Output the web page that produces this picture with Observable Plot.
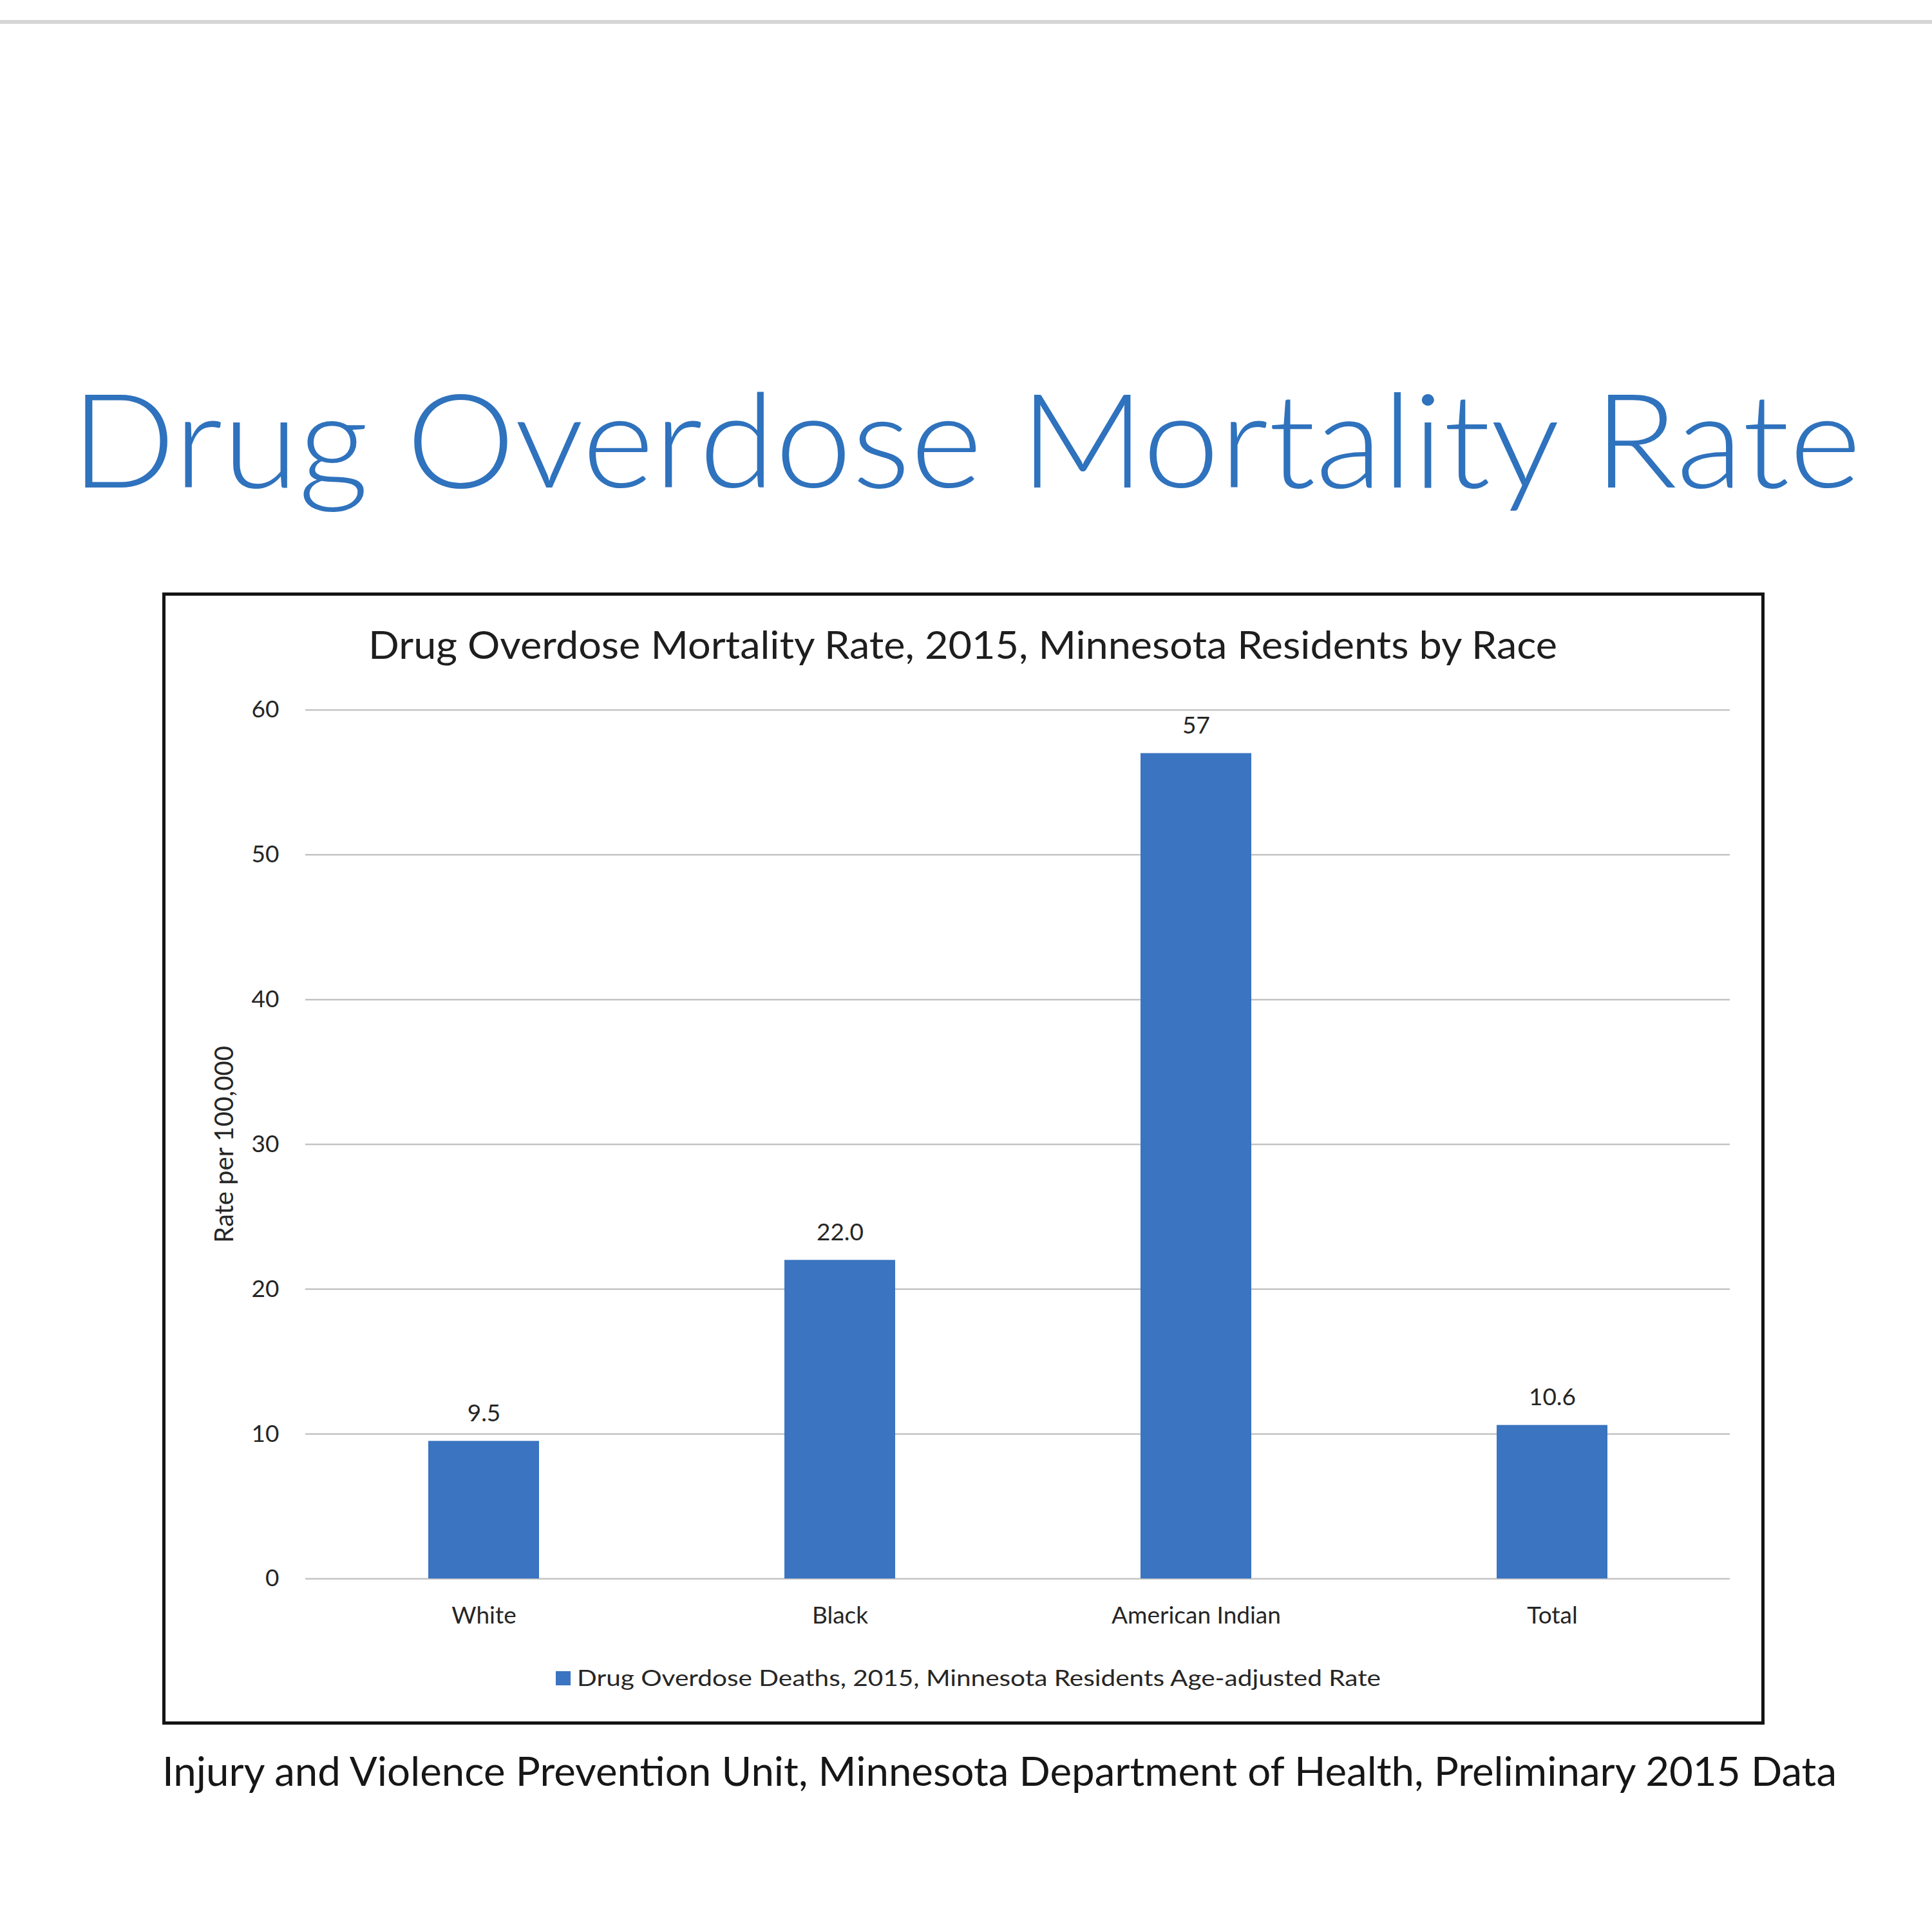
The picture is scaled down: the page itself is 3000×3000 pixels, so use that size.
<!DOCTYPE html>
<html>
<head>
<meta charset="utf-8">
<script src="https://cdn.jsdelivr.net/npm/d3@7"></script>
<script src="https://cdn.jsdelivr.net/npm/@observablehq/plot@0.6"></script>
<style>
  body { margin: 0; background: #fff; }
  #page { position: relative; width: 3000px; height: 3000px; background: #fff; overflow: hidden; }
  .t { position: absolute; white-space: nowrap; line-height: 1.2; transform-origin: 0 0; }
  .rule { position: absolute; left: 0; width: 3000px; top: 31px; height: 6px; background: #d6d6d6; }
  .box { position: absolute; left: 252px; top: 920px; width: 2488px; height: 1758px; box-sizing: border-box; border: 5px solid #141414; }
  .swatch { position: absolute; left: 863px; top: 2595px; width: 23px; height: 22px; }
  #chart { position: absolute; left: 0; top: 1040px; }
</style>
</head>
<body>
<div id="page">
  <div class="rule"></div>
  <div class="box"></div>
  <div class="swatch"></div>
  <div id="chart"></div>
</div>
<script>
// Age-adjusted drug overdose death rates, Minnesota residents, 2015
const categories = ["White", "Black", "American Indian", "Total"];
const rates = [9.5, 22.0, 57, 10.6];
const rateLabels = ["9.5", "22.0", "57", "10.6"];
const yTicks = [0, 10, 20, 30, 40, 50, 60];

const pageTitle = "Drug Overdose Mortality Rate";
const chartTitle = "Drug Overdose Mortality Rate, 2015, Minnesota Residents by Race";
const yLabel = "Rate per 100,000";
const seriesName = "Drug Overdose Deaths, 2015, Minnesota Residents Age-adjusted Rate";
const sourceNote = "Injury and Violence Prevention Unit, Minnesota Department of Health, Preliminary 2015 Data";

const FONT = "Lato, 'Open Sans', 'Noto Sans', sans-serif";
const BAR = "#3b74c0";
const TITLE_BLUE = "#2f72bd";
const INK = "#262626";

const page = document.getElementById("page");

// Place a line of text by its baseline and cap height, then stretch it to a set width.
function placeText(str, {left, baseline, cap, width, weight = 400, color = INK}) {
  const size = cap / 0.7165;
  const el = document.createElement("div");
  el.className = "t";
  el.style.fontFamily = FONT;
  el.style.fontSize = size + "px";
  el.style.fontWeight = weight;
  el.style.color = color;
  el.style.left = left + "px";
  el.style.top = "0px";
  const span = document.createElement("span");
  span.textContent = str;
  const marker = document.createElement("span");
  marker.style.cssText = "display:inline-block;width:0;height:0;vertical-align:baseline;";
  el.appendChild(span);
  el.appendChild(marker);
  page.appendChild(el);
  const base = marker.getBoundingClientRect().top - el.getBoundingClientRect().top;
  el.style.top = (baseline - base) + "px";
  const w = span.getBoundingClientRect().width;
  el.style.transform = `scaleX(${width / w})`;
  return el;
}

placeText(pageTitle, {left: 110, baseline: 757, cap: 146, width: 2780, weight: 300, color: TITLE_BLUE});
placeText(chartTitle, {left: 572, baseline: 1023, cap: 43, width: 1846, color: "#1e1e1e"});
placeText(seriesName, {left: 896, baseline: 2618, cap: 25, width: 1248});
placeText(sourceNote, {left: 252, baseline: 2773, cap: 44, width: 2600, color: "#161616"});
document.querySelector(".swatch").style.background = BAR;

const data = categories.map((category, i) => ({category, rate: rates[i], label: rateLabels[i]}));

const chart = Plot.plot({
  width: 3000,
  height: 1540,
  marginLeft: 474,
  marginRight: 314,
  marginTop: 62,
  marginBottom: 129,
  style: {fontFamily: FONT, fontSize: "37px", color: INK, background: "transparent", overflow: "visible"},
  x: {domain: categories, paddingInner: 0.689, paddingOuter: 0.3445, label: null},
  y: {domain: [0, 60], ticks: yTicks, label: null},
  marks: [
    Plot.gridY(yTicks, {stroke: "#c4c4c4", strokeOpacity: 1, strokeWidth: 2.5}),
    Plot.barY(data, {x: "category", y: "rate", fill: BAR}),
    Plot.text(data, {x: "category", y: "rate", text: "label", dy: -43, fontSize: 37, fill: INK}),
    Plot.axisX({tickSize: 0, tickPadding: 43, fontSize: 37, label: null, fill: INK}),
    Plot.axisY(yTicks, {tickSize: 0, tickPadding: 41, fontSize: 37, label: null, fill: INK}),
    Plot.text([yLabel], {frameAnchor: "left", textAnchor: "middle", rotate: -90, dx: -125, text: d => d, fontSize: 40, fill: INK})
  ]
});
document.getElementById("chart").appendChild(chart);
</script>
</body>
</html>
